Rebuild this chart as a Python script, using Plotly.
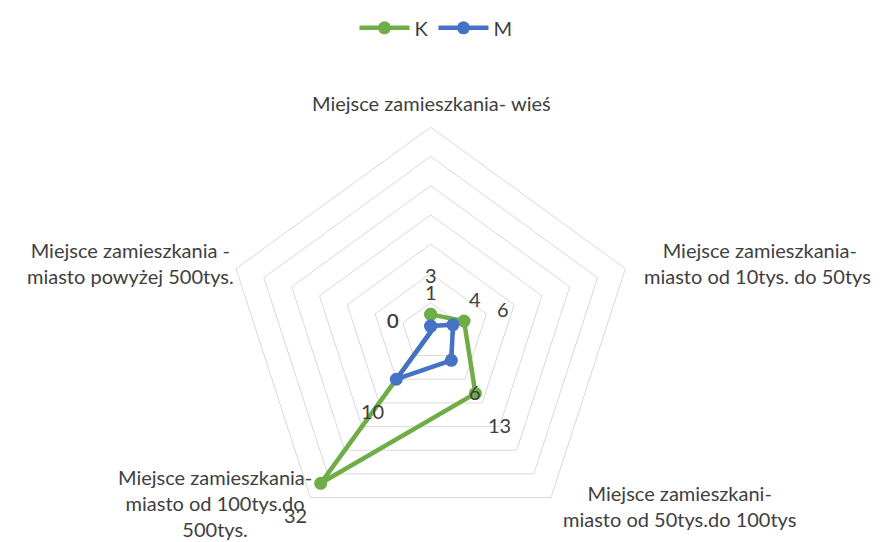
import math
import plotly.graph_objects as go

categories = [
    "Miejsce zamieszkania- wieś",
    "Miejsce zamieszkania-<br>miasto od 10tys. do 50tys.",
    "Miejsce zamieszkani-<br>miasto od 50tys.do 100tys",
    "Miejsce zamieszkania-<br>miasto od 100tys.do<br>500tys.",
    "Miejsce zamieszkania -<br>miasto powyżej 500tys.",
]
series_names = ["K", "M"]
values_K = [3, 6, 13, 32, 0]
values_M = [1, 4, 6, 10, 0]

colors = {"K": "#70AD47", "M": "#4472C4"}
TEXT = "#404040"
FONT = "Lato"
FS = 20
GRID = "#d9d9d9"
RMAX = 35

axis_ids = ["c0", "c1", "c2", "c3", "c4"]
angles = [0, 72, 144, 216, 288]
LABEL_PAD = 6.7
# manual nudges of data labels (series, index) -> (radial pad, angle shift)
label_nudge = {("M", 0): (5.9, 0), ("M", 1): (5.33, -19.7)}

fig = go.Figure()
for name, vals in zip(series_names, [values_K, values_M]):
    fig.add_trace(go.Scatterpolar(
        r=vals + [vals[0]], theta=axis_ids + [axis_ids[0]], name=name,
        mode="lines+markers",
        line=dict(color=colors[name], width=4.5),
        marker=dict(color=colors[name], size=13),
        cliponaxis=False, hoverinfo="skip", subplot="polar",
    ))

# data labels: annotations on an invisible cartesian overlay sharing the radar's scale
fig.add_trace(go.Scatter(x=[0], y=[0], mode="markers", marker=dict(opacity=0),
                         showlegend=False, hoverinfo="skip"))
for name, vals in zip(series_names, [values_K, values_M]):
    for i, v in enumerate(vals):
        pad, dth = label_nudge.get((name, i), (LABEL_PAD, 0))
        a = math.radians(angles[i] + dth)
        fig.add_annotation(x=(v + pad) * math.sin(a), y=(v + pad) * math.cos(a),
                           xref="x", yref="y", text=str(v), showarrow=False,
                           xanchor="center", yanchor="middle",
                           font=dict(size=FS, color=TEXT, family=FONT))

# category label positions (paper coords)
cat_pos = [(0.4862, 0.8371), (0.8624, 0.5318), (0.7706, 0.0684), (0.2374, 0.0749), (0.1405, 0.5318)]
for text, (x, y) in zip(categories, cat_pos):
    fig.add_annotation(text=text, x=x, y=y, xref="paper", yref="paper",
                       xanchor="center", yanchor="middle", showarrow=False,
                       align="center", font=dict(size=FS, color=TEXT, family=FONT))

dom = dict(x=[0.2455, 0.7240], y=[0.0103, 0.7916])
fig.update_layout(
    width=872, height=534,
    margin=dict(l=0, r=0, t=0, b=0),
    paper_bgcolor="white", plot_bgcolor="rgba(0,0,0,0)",
    font=dict(family=FONT, color=TEXT, size=FS),
    showlegend=True,
    legend=dict(orientation="h", x=0.4908, xanchor="center", y=0.9813, yanchor="middle",
                itemwidth=50,
                font=dict(size=FS, color=TEXT, family=FONT)),
    xaxis=dict(domain=dom["x"], range=[-RMAX, RMAX], visible=False, fixedrange=True),
    yaxis=dict(domain=dom["y"], range=[-RMAX, RMAX], visible=False, fixedrange=True),
    polar=dict(
        domain=dom,
        bgcolor="rgba(0,0,0,0)",
        gridshape="linear",
        radialaxis=dict(range=[0, RMAX], dtick=5, showticklabels=False, ticks="",
                        showline=False, gridcolor=GRID, gridwidth=1),
        angularaxis=dict(type="category", categoryarray=axis_ids,
                         rotation=90, direction="clockwise", showgrid=False,
                         showline=True, linecolor=GRID, linewidth=1, ticks="",
                         showticklabels=False),
    ),
)

fig.write_html("out.html")
